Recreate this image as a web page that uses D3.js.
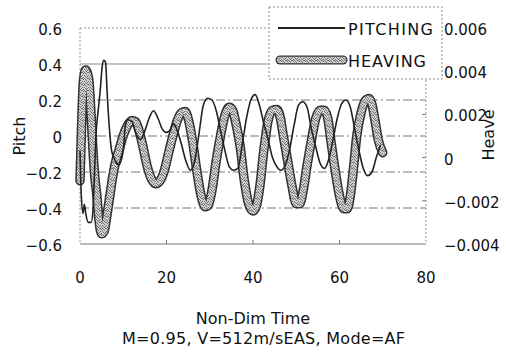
<!DOCTYPE html>
<html><head><meta charset="utf-8">
<script src="https://cdn.jsdelivr.net/npm/d3@7"></script>
<style>
html,body{margin:0;padding:0;background:#fff;}
svg{display:block;font-family:"DejaVu Sans",sans-serif;}
</style></head>
<body><svg id="c" width="506" height="352"></svg>
<script>
const tPitch = [0,0.3,0.7,1.0,1.4,1.9,2.6,3.0,3.3,3.7,4.2,4.7,5.1,5.5,5.9,6.3,6.8,7.3,8,9,10,10.5,11,12,13,14,15,16,17,18,19,20,21,21.5,22.5,23.5,24.5,25.5,26.5,27.5,28.5,29.5,30.5,31.5,32.5,33.5,34.5,35.5,36.5,37.5,38.5,39.5,40.5,41.5,42.5,43.5,44.5,45.5,46.5,47.5,48.5,49.5,50.5,51.5,52.5,53.5,54.5,55.5,56.5,57.5,58.5,59.5,60.5,61.5,62.5,63.5,64.5,65.5,66.5,67.5,68.5,69.5];
const pitch = [-0.08,-0.33,-0.43,-0.38,-0.44,-0.48,-0.48,-0.41,-0.24,0.01,0.14,0.26,0.38,0.42,0.41,0.23,0.04,-0.08,-0.13,-0.16,-0.08,0.06,0.09,0.08,0.01,-0.02,0.03,0.1,0.14,0.1,0.04,0.02,0.04,0.07,0.03,-0.05,-0.14,-0.19,-0.14,0.01,0.17,0.21,0.2,0.14,0.03,-0.08,-0.17,-0.19,-0.18,-0.05,0.1,0.2,0.23,0.17,0.07,-0.02,-0.12,-0.17,-0.19,-0.16,-0.07,0.06,0.17,0.19,0.16,0.04,-0.06,-0.15,-0.18,-0.13,-0.02,0.1,0.18,0.2,0.16,0.04,-0.08,-0.18,-0.22,-0.2,-0.12,-0.05];
const tHeave = [0,0.4,0.8,1.3,2.0,2.5,3.0,3.4,3.9,4.4,5,5.6,6.2,6.9,7.6,8.3,9,10,11,12,12.8,13.5,14.5,15.5,16.5,17.5,18.5,19.5,20.5,21.5,22.5,23.5,24.3,25,26,27,28,29,29.7,30.5,31.5,32.5,33.5,34.5,35.3,36,37,38,39,40,40.8,41.6,42.5,43.5,44.5,45.5,46.3,47,48,49,50,50.8,51.6,52.5,53.5,54.5,55.5,56.5,57.3,58,59,60,61,61.8,62.5,63.3,64,65,66,66.8,67.5,68.2,69,70];
const heave = [-0.00107,0.00172,0.00358,0.00405,0.00367,0.00219,0.00033,-0.00084,-0.00177,-0.00293,-0.00353,-0.00340,-0.00270,-0.00177,-0.00084,-0.00014,0.00033,0.00102,0.00149,0.00172,0.00167,0.00135,0.00056,-0.00037,-0.00098,-0.00121,-0.00107,-0.00060,0.00023,0.00102,0.00172,0.00209,0.00214,0.00181,0.00079,-0.00060,-0.00177,-0.00228,-0.00219,-0.00153,-0.00014,0.00102,0.00195,0.00233,0.00219,0.00163,0.00056,-0.00107,-0.00214,-0.00247,-0.00223,-0.00130,0.00033,0.00172,0.00219,0.00223,0.00186,0.00102,-0.00014,-0.00130,-0.00214,-0.00214,-0.00153,-0.00037,0.00079,0.00181,0.00219,0.00219,0.00181,0.00079,-0.00060,-0.00177,-0.00237,-0.00237,-0.00177,-0.00037,0.00102,0.00209,0.00265,0.00274,0.00247,0.00172,0.00079,0.00023];
const xTicks = [0,20,40,60,80];
const pitchTicks = [0.6,0.4,0.2,0,-0.2,-0.4,-0.6];
const heaveTicks = [0.006,0.004,0.002,0,-0.002,-0.004];
const seriesNames = ["PITCHING","HEAVING"];
const xTitle = "Non-Dim Time";
const subTitle = "M=0.95, V=512m/sEAS, Mode=AF";

const svg = d3.select("#c");
const L=80,R=426,T=28,B=244;
const x = d3.scaleLinear().domain([0,80]).range([L,R]);
const yP = d3.scaleLinear().domain([-0.6,0.6]).range([B,T]);
const yH = d3.scaleLinear().domain([-0.004,0.006]).range([B,T]);

// stipple pattern (irregular dots)
const defs = svg.append("defs");
const pat = defs.append("pattern").attr("id","stip").attr("width",6).attr("height",6).attr("patternUnits","userSpaceOnUse");
pat.append("rect").attr("width",6).attr("height",6).attr("fill","#cfcfcf");
[[0,0],[3,0],[1,1],[5,1],[2,2],[4,3],[0,3],[1,4],[3,4],[5,5],[2,5],[4,0]].forEach(p=>{
  pat.append("rect").attr("x",p[0]).attr("y",p[1]).attr("width",1).attr("height",1).attr("fill","#707070");
});

// gridlines
const grid = svg.append("g");
pitchTicks.filter(v=>v>-0.6 && v<0.6).forEach(v=>{
  grid.append("line").attr("x1",L).attr("x2",R).attr("y1",yP(v)).attr("y2",yP(v))
    .attr("stroke", v===0.4 ? "#8a8a8a" : "#777").attr("stroke-width",1)
    .attr("stroke-dasharray", v===0.4 ? null : "9,3,2,3");
});
// border
svg.append("line").attr("x1",L).attr("x2",R).attr("y1",T).attr("y2",T).attr("stroke","#999").attr("stroke-dasharray","2,2");
svg.append("line").attr("x1",L).attr("x2",L).attr("y1",T).attr("y2",B).attr("stroke","#999").attr("stroke-dasharray","2,2");
svg.append("line").attr("x1",R).attr("x2",R).attr("y1",T).attr("y2",B).attr("stroke","#999").attr("stroke-dasharray","2,2");
svg.append("line").attr("x1",L).attr("x2",R).attr("y1",B).attr("y2",B).attr("stroke","#777");
// small ticks
xTicks.filter(v=>v>0&&v<80).forEach(v=>{
  svg.append("line").attr("x1",x(v)).attr("x2",x(v)).attr("y1",B).attr("y2",B-4).attr("stroke","#777");
});
heaveTicks.filter(v=>v>-0.004&&v<0.006).forEach(v=>{
  svg.append("line").attr("x1",R).attr("x2",R-4).attr("y1",yH(v)).attr("y2",yH(v)).attr("stroke","#777");
});

// tick labels
const fmtP = v => (v<0?"\u2212":"") + (v===0?"0":Math.abs(v).toFixed(1));
const fmtH = v => (v<0?"\u2212":"") + (v===0?"0":Math.abs(v).toFixed(3));
svg.append("g").selectAll("text").data(pitchTicks).join("text")
  .attr("x",62).attr("y",d=>yP(d)+7).attr("text-anchor","end")
  .attr("font-size",15).attr("fill","#111").text(fmtP);
svg.append("g").selectAll("text").data(heaveTicks).join("text")
  .attr("x",444).attr("y",d=>yH(d)+7).attr("text-anchor","start")
  .attr("font-size",15).attr("fill","#111").text(fmtH);
svg.append("g").selectAll("text").data(xTicks).join("text")
  .attr("x",d=>x(d)).attr("y",283).attr("text-anchor","middle")
  .attr("font-size",15).attr("fill","#111").text(d=>d);

// axis titles
svg.append("text").attr("transform","translate(25,136) rotate(-90)").attr("text-anchor","middle")
  .attr("font-size",16).attr("fill","#111").text("Pitch");
svg.append("text").attr("transform","translate(494,135) rotate(-90)").attr("text-anchor","middle")
  .attr("font-size",16).attr("fill","#111").text("Heave");
svg.append("text").attr("x",253).attr("y",324).attr("text-anchor","middle")
  .attr("font-size",16).attr("fill","#111").text(xTitle);
svg.append("text").attr("x",122).attr("y",344).attr("text-anchor","start")
  .attr("font-size",16).attr("fill","#111").attr("textLength",283).attr("lengthAdjust","spacing").text(subTitle);

// series
const hd = tHeave.map((t,i)=>[t,heave[i]]);
const pd = tPitch.map((t,i)=>[t,pitch[i]]);
const lineH = d3.line().x(d=>x(d[0])).y(d=>yH(d[1])).curve(d3.curveMonotoneX);
const lineP = d3.line().x(d=>x(d[0])).y(d=>yP(d[1])).curve(d3.curveMonotoneX);
svg.append("path").attr("d",lineH(hd)).attr("fill","none").attr("stroke","#333").attr("stroke-width",9.5).attr("stroke-linejoin","round").attr("stroke-linecap","round");
svg.append("path").attr("d",lineH(hd)).attr("fill","none").attr("stroke","url(#stip)").attr("stroke-width",6.5).attr("stroke-linejoin","round").attr("stroke-linecap","round");
svg.append("path").attr("d",lineP(pd)).attr("fill","none").attr("stroke","#222").attr("stroke-width",1.6).attr("stroke-linejoin","round");

// legend
const lg = svg.append("g");
lg.append("rect").attr("x",269).attr("y",7).attr("width",173).attr("height",72).attr("fill","#fff")
  .attr("stroke","#888").attr("stroke-dasharray","2,2");
lg.append("line").attr("x1",278).attr("x2",345).attr("y1",28).attr("y2",28).attr("stroke","#222").attr("stroke-width",1.8);
lg.append("line").attr("x1",280).attr("x2",343).attr("y1",60).attr("y2",60).attr("stroke","#333").attr("stroke-width",9).attr("stroke-linecap","round");
lg.append("line").attr("x1",280).attr("x2",343).attr("y1",60).attr("y2",60).attr("stroke","url(#stip)").attr("stroke-width",6.5).attr("stroke-linecap","round");
lg.append("text").attr("x",348).attr("y",35).attr("font-size",16).attr("fill","#111")
  .attr("textLength",85).attr("lengthAdjust","spacing").text(seriesNames[0]);
lg.append("text").attr("x",348).attr("y",67).attr("font-size",16).attr("fill","#111")
  .attr("textLength",78).attr("lengthAdjust","spacing").text(seriesNames[1]);
</script></body></html>
